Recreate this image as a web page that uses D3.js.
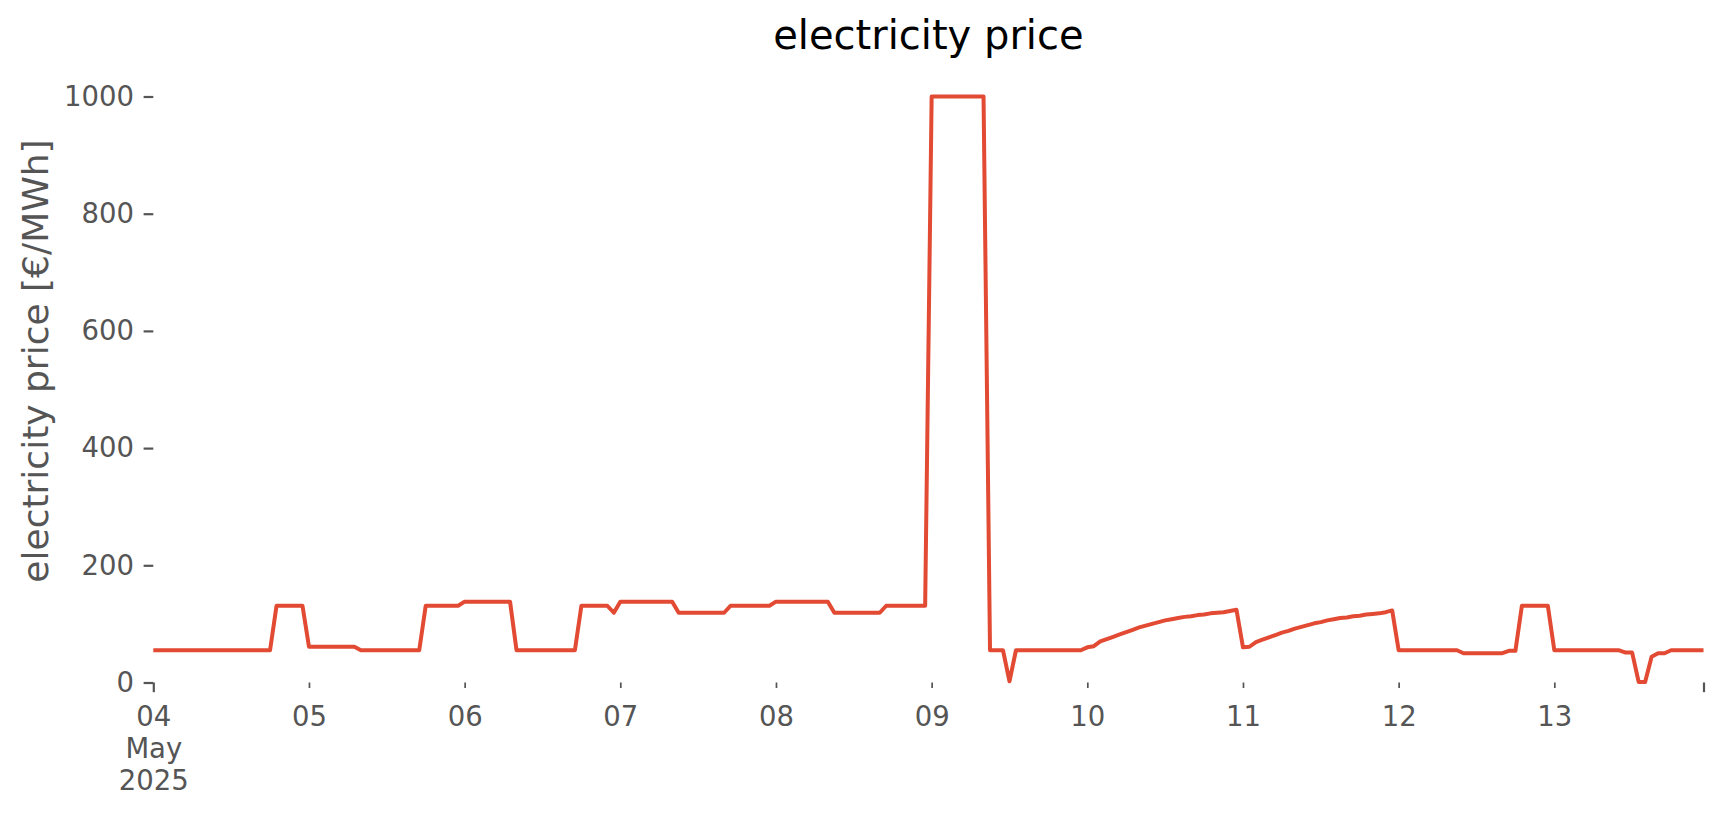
<!DOCTYPE html>
<html>
<head>
<meta charset="utf-8">
<script src="https://cdn.jsdelivr.net/npm/d3@7/dist/d3.min.js"></script>
<style>
  html, body { margin: 0; padding: 0; background: #ffffff; }
  svg { display: block; }
  text { font-family: "DejaVu Sans", sans-serif; }
</style>
</head>
<body>
<svg id="chart" width="1724" height="815"></svg>
<script>
// ---- data (hourly electricity price, 2025-05-04 00:00 ... 2025-05-13 23:00) ----
const startTime = "2025-05-04T00:00:00";
const price = [
  // May 04
  55,55,55,55,55,55,55,55,55,55,55,55,55,55,55,55,55,55,55,131,131,131,131,131,
  // May 05
  61,61,61,61,61,61,61,61,55,55,55,55,55,55,55,55,55,55,131,131,131,131,131,131,
  // May 06
  138,138,138,138,138,138,138,138,55,55,55,55,55,55,55,55,55,55,131,131,131,131,131,119,
  // May 07
  138,138,138,138,138,138,138,138,138,119,119,119,119,119,119,119,119,131,131,131,131,131,131,131,
  // May 08
  138,138,138,138,138,138,138,138,138,119,119,119,119,119,119,119,119,131,131,131,131,131,131,131,
  // May 09
  1000,1000,1000,1000,1000,1000,1000,1000,1000,55,55,55,2,55,55,55,55,55,55,55,55,55,55,55,
  // May 10
  60,62,70,74,78,82,86,90,94,97,100,103,106,108,110,112,113,115,116,118,119,120,122,124,
  // May 11
  60,61,69,73,77,81,85,88,92,95,98,101,103,106,108,110,111,113,114,116,117,118,120,123,
  // May 12
  55,55,55,55,55,55,55,55,55,55,50,50,50,50,50,50,50,54,54,131,131,131,131,131,
  // May 13
  55,55,55,55,55,55,55,55,55,55,55,51,51,1,1,44,50,50,55,55,55,55,55,55
];
const yTicks = [0, 200, 400, 600, 800, 1000];
const dayTickLabels = ["04", "05", "06", "07", "08", "09", "10", "11", "12", "13"];
const firstTickExtra = ["May", "2025"];
const titleText = "electricity price";
const yLabelText = "electricity price [€/MWh]";

(function () {
  // ---- build series ----
  const t0 = new Date(startTime);
  const series = price.map((v, i) => ({ t: d3.timeHour.offset(t0, i), v }));
  const tEnd = series[series.length - 1].t;

  // ---- layout ----
  const svg = d3.select("#chart");
  const mLeft = 153.3, mRight = 1703.5, mBottom = 682.5, mTop = 96.5;
  const x = d3.scaleTime().domain([t0, tEnd]).range([mLeft, mRight]);
  const y = d3.scaleLinear().domain([0, 1000]).range([mBottom, mTop]);

  const grey = "#555555";
  const tickFont = 27.5;

  // y axis
  const yAxis = svg.append("g")
    .attr("transform", `translate(${mLeft},0)`)
    .call(d3.axisLeft(y).tickValues(yTicks).tickSize(9.7).tickPadding(9.6).tickFormat(d3.format("d")));
  yAxis.select(".domain").remove();
  yAxis.selectAll(".tick line").attr("stroke", grey).attr("stroke-width", 2.2);
  yAxis.selectAll(".tick text").attr("fill", grey).attr("font-size", tickFont)
    .attr("font-family", "DejaVu Sans");

  // x axis: minor day ticks (05..13)
  const dayDates = dayTickLabels.map((_, i) => d3.timeDay.offset(t0, i));
  const minorDates = dayDates.slice(1);
  const xMinor = svg.append("g")
    .attr("transform", `translate(0,${mBottom})`)
    .call(d3.axisBottom(x).tickValues(minorDates).tickSize(5.5).tickPadding(18.5)
      .tickFormat((d) => dayTickLabels[dayDates.findIndex(e => +e === +d)]));
  xMinor.select(".domain").remove();
  xMinor.selectAll(".tick line").attr("stroke", grey).attr("stroke-width", 1.7);
  xMinor.selectAll(".tick text").attr("fill", grey).attr("font-size", tickFont)
    .attr("font-family", "DejaVu Sans");

  // x axis: major ticks (start and end)
  const xMajor = svg.append("g")
    .attr("transform", `translate(0,${mBottom})`)
    .call(d3.axisBottom(x).tickValues([t0, tEnd]).tickSize(9.7).tickPadding(14.3)
      .tickFormat((d) => (+d === +t0 ? dayTickLabels[0] : "")));
  xMajor.select(".domain").remove();
  xMajor.selectAll(".tick line").attr("stroke", grey).attr("stroke-width", 2.2);
  xMajor.selectAll(".tick text").attr("fill", grey).attr("font-size", tickFont)
    .attr("font-family", "DejaVu Sans");
  xMajor.selectAll(".tick text").filter((d) => +d === +t0).each(function () {
    const txt = d3.select(this);
    firstTickExtra.forEach((s) => {
      txt.append("tspan").attr("x", 0).attr("dy", "1.17em").text(s);
    });
  });

  // line
  svg.append("path")
    .datum(series)
    .attr("fill", "none")
    .attr("stroke", "#E24A33")
    .attr("stroke-width", 4)
    .attr("stroke-linejoin", "round")
    .attr("d", d3.line().x(d => x(d.t)).y(d => y(d.v)));

  // title
  svg.append("text")
    .attr("x", (mLeft + mRight) / 2)
    .attr("y", 49)
    .attr("text-anchor", "middle")
    .attr("font-size", 40)
    .attr("fill", "#000000")
    .text(titleText);

  // y label
  svg.append("text")
    .attr("transform", `translate(48,361) rotate(-90)`)
    .attr("text-anchor", "middle")
    .attr("font-size", 36)
    .attr("fill", grey)
    .text(yLabelText);
})();
</script>
</body>
</html>
